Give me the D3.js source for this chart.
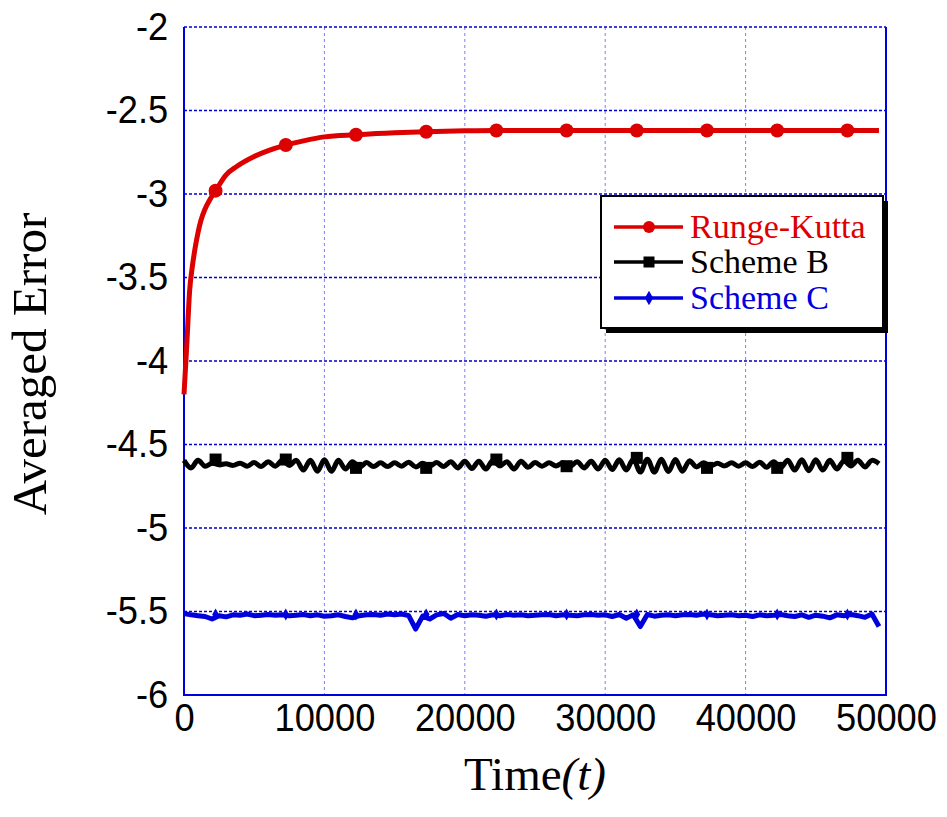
<!DOCTYPE html>
<html>
<head>
<meta charset="utf-8">
<script src="https://cdn.jsdelivr.net/npm/d3@7"></script>
<style>
  body { margin: 0; background: #fff; }
  svg { display: block; }
</style>
</head>
<body>
<svg id="chart" width="947" height="817"></svg>
<script>
// series data
var rkTime = [0, 100, 200, 400, 600, 800, 1000, 1200, 1500, 1800, 2250, 3000, 3750, 5000, 6000, 7250, 8500, 10000,
  12250, 15000, 17250, 20000, 22250, 27250, 32250, 37250, 42250, 47250, 49500];
var rkErr = [-4.20, -4.05, -3.90, -3.58, -3.43, -3.32, -3.23, -3.16, -3.09, -3.04, -2.98, -2.885, -2.835, -2.775, -2.74,
  -2.707, -2.682, -2.658, -2.645, -2.633, -2.627, -2.622, -2.62, -2.62, -2.62, -2.62, -2.62, -2.62, -2.62];
var rkMarkIdx = [10, 15, 18, 20, 22, 23, 24, 25, 26, 27];

var sampleTime = d3.range(0, 50000, 500);
var schemeB = [-4.595, -4.640, -4.595, -4.630, -4.612, -4.622, -4.615, -4.625, -4.612, -4.630,
  -4.608, -4.632, -4.603, -4.630, -4.595, -4.625, -4.595, -4.653, -4.595, -4.660,
  -4.592, -4.660, -4.595, -4.647, -4.603, -4.636, -4.608, -4.632, -4.610, -4.632,
  -4.610, -4.630, -4.606, -4.634, -4.613, -4.630, -4.608, -4.632, -4.603, -4.640,
  -4.600, -4.644, -4.600, -4.647, -4.595, -4.628, -4.603, -4.647, -4.600, -4.636,
  -4.608, -4.630, -4.610, -4.628, -4.610, -4.632, -4.603, -4.640, -4.600, -4.647,
  -4.595, -4.650, -4.592, -4.653, -4.588, -4.665, -4.588, -4.665, -4.588, -4.662,
  -4.590, -4.660, -4.598, -4.634, -4.610, -4.628, -4.613, -4.628, -4.610, -4.630,
  -4.610, -4.632, -4.606, -4.636, -4.603, -4.640, -4.595, -4.653, -4.592, -4.657,
  -4.592, -4.653, -4.595, -4.647, -4.598, -4.628, -4.595, -4.634, -4.595, -4.615];
var schemeC = [-5.512, -5.520, -5.525, -5.530, -5.545, -5.525, -5.532, -5.520, -5.522, -5.515,
  -5.525, -5.522, -5.518, -5.522, -5.520, -5.525, -5.522, -5.518, -5.525, -5.520,
  -5.528, -5.525, -5.520, -5.530, -5.538, -5.525, -5.520, -5.518, -5.522, -5.515,
  -5.520, -5.515, -5.525, -5.605, -5.528, -5.545, -5.520, -5.512, -5.540, -5.518,
  -5.525, -5.520, -5.522, -5.528, -5.520, -5.525, -5.518, -5.522, -5.520, -5.525,
  -5.522, -5.520, -5.518, -5.525, -5.520, -5.522, -5.525, -5.520, -5.518, -5.522,
  -5.520, -5.530, -5.518, -5.540, -5.520, -5.590, -5.518, -5.528, -5.522, -5.520,
  -5.525, -5.520, -5.518, -5.522, -5.515, -5.520, -5.525, -5.522, -5.520, -5.525,
  -5.522, -5.530, -5.520, -5.525, -5.522, -5.518, -5.525, -5.530, -5.520, -5.535,
  -5.522, -5.528, -5.538, -5.520, -5.525, -5.518, -5.525, -5.535, -5.515, -5.590];

var markTime = [2250, 7250, 12250, 17250, 22250, 27250, 32250, 37250, 42250, 47250];
var schemeBMarks = [-4.59, -4.59, -4.64, -4.64, -4.59, -4.63, -4.58, -4.64, -4.64, -4.58];
var schemeCMarks = [-5.518, -5.518, -5.518, -5.518, -5.518, -5.518, -5.518, -5.518, -5.518, -5.518];

var xTicks = [0, 10000, 20000, 30000, 40000, 50000];
var yTicks = [-2, -2.5, -3, -3.5, -4, -4.5, -5, -5.5, -6];
var legendNames = ['Runge-Kutta', 'Scheme B', 'Scheme C'];
var colors = ['#dd0000', '#000000', '#0000dd'];

var pLeft = 184, pRight = 886, pTop = 27, pBottom = 695;

var svg = d3.select('#chart');
var x = d3.scaleLinear().domain([0, 50000]).range([pLeft, pRight]);
var y = d3.scaleLinear().domain([-6, -2]).range([pBottom, pTop]);

// grid
var grid = svg.append('g').classed('grid', true);
grid.selectAll('line.v')
    .data(xTicks.slice(1, -1))
    .enter().append('line')
    .attr('x1', function (d) { return x(d); })
    .attr('x2', function (d) { return x(d); })
    .attr('y1', pTop).attr('y2', pBottom)
    .style('stroke', '#7f7fee')
    .style('stroke-width', 1)
    .style('stroke-dasharray', '3,3');
grid.selectAll('line.h')
    .data(yTicks.slice(0, -1))
    .enter().append('line')
    .attr('x1', pLeft).attr('x2', pRight)
    .attr('y1', function (d) { return y(d); })
    .attr('y2', function (d) { return y(d); })
    .style('stroke', '#0000cc')
    .style('stroke-width', 1.6)
    .style('stroke-dasharray', '3,2');

// frame
svg.append('path')
    .attr('d', 'M' + pLeft + ',' + pTop + 'V' + pBottom + 'H' + pRight + 'V' + pTop)
    .style('fill', 'none')
    .style('stroke', '#0000dd')
    .style('stroke-width', 2);

// axes
var yAxis = svg.append('g')
    .attr('transform', 'translate(' + pLeft + ',0)')
    .call(d3.axisLeft(y).tickValues(yTicks).tickSize(0).tickPadding(17)
        .tickFormat(function (d) { return String(d); }));
var xAxis = svg.append('g')
    .attr('transform', 'translate(0,' + pBottom + ')')
    .call(d3.axisBottom(x).tickValues(xTicks).tickSize(0).tickPadding(8)
        .tickFormat(function (d) { return String(d); }));
[yAxis, xAxis].forEach(function (ax) {
    ax.select('.domain').remove();
    ax.selectAll('text')
        .style('font-family', '"Liberation Sans", Arial, sans-serif')
        .style('font-size', '39px')
        .style('fill', '#000')
        .attr('transform', 'scale(0.93,1)');
});

// lines
var line = d3.line()
    .x(function (d) { return x(d[0]); })
    .y(function (d) { return y(d[1]); });

var plot = svg.append('g').classed('plot', true);

var rkData = rkTime.map(function (t, i) { return [t, rkErr[i]]; });
plot.append('path')
    .datum(rkData)
    .attr('d', line.curve(d3.curveMonotoneX))
    .style('fill', 'none')
    .style('stroke', colors[0])
    .style('stroke-width', 5);
plot.selectAll('circle.rk')
    .data(rkMarkIdx.map(function (i) { return rkData[i]; }))
    .enter().append('circle')
    .attr('cx', function (d) { return x(d[0]); })
    .attr('cy', function (d) { return y(d[1]); })
    .attr('r', 7)
    .style('fill', colors[0]);

plot.append('path')
    .datum(sampleTime.map(function (t, i) { return [t, schemeB[i]]; }))
    .attr('d', line.curve(d3.curveCatmullRom))
    .style('fill', 'none')
    .style('stroke', colors[1])
    .style('stroke-width', 5);
plot.selectAll('rect.b')
    .data(markTime.map(function (t, i) { return [t, schemeBMarks[i]]; }))
    .enter().append('rect')
    .attr('x', function (d) { return x(d[0]) - 6; })
    .attr('y', function (d) { return y(d[1]) - 6; })
    .attr('width', 12).attr('height', 12)
    .style('fill', colors[1]);

plot.append('path')
    .datum(sampleTime.map(function (t, i) { return [t, schemeC[i]]; }))
    .attr('d', line.curve(d3.curveLinear))
    .style('fill', 'none')
    .style('stroke', colors[2])
    .style('stroke-width', 5)
    .style('stroke-linejoin', 'round');
plot.selectAll('path.c')
    .data(markTime.map(function (t, i) { return [t, schemeCMarks[i]]; }))
    .enter().append('path')
    .attr('d', d3.symbol(d3.symbolDiamond, 40))
    .attr('transform', function (d) { return 'translate(' + x(d[0]) + ',' + y(d[1]) + ')'; })
    .style('fill', colors[2]);

// legend
var lg = svg.append('g').attr('transform', 'translate(601,196)');
lg.append('rect').attr('x', 5).attr('y', 5).attr('width', 282).attr('height', 132).style('fill', '#000');
lg.append('rect').attr('width', 282).attr('height', 132)
    .style('fill', '#fff').style('stroke', '#000').style('stroke-width', 2);
var rows = lg.selectAll('g.row')
    .data(legendNames)
    .enter().append('g')
    .attr('transform', function (d, i) { return 'translate(0,' + [31, 66, 102][i] + ')'; });
rows.append('line')
    .attr('x1', 13).attr('x2', 82)
    .style('stroke', function (d, i) { return colors[i]; })
    .style('stroke-width', 3.5);
rows.each(function (d, i) {
    var g = d3.select(this);
    if (i === 0) g.append('circle').attr('cx', 48).attr('r', 6).style('fill', colors[0]);
    else if (i === 1) g.append('rect').attr('x', 42.5).attr('y', -5.5).attr('width', 11).attr('height', 11).style('fill', colors[1]);
    else g.append('path').attr('d', d3.symbol(d3.symbolDiamond, 60)).attr('transform', 'translate(48,0)').style('fill', colors[2]);
});
rows.append('text')
    .attr('x', 89)
    .attr('dy', '0.33em')
    .text(function (d) { return d; })
    .style('font-family', '"Liberation Serif", "Times New Roman", serif')
    .style('font-size', '34px')
    .style('fill', function (d, i) { return colors[i]; });

// axis titles
svg.append('text')
    .attr('transform', 'translate(46,' + ((pTop + pBottom) / 2 + 3) + ') rotate(-90)')
    .attr('text-anchor', 'middle')
    .style('font-family', '"Liberation Serif", "Times New Roman", serif')
    .style('font-size', '49px')
    .text('Averaged Error');

var xt = svg.append('text')
    .attr('x', (pLeft + pRight) / 2)
    .attr('y', 790)
    .attr('text-anchor', 'middle')
    .style('font-family', '"Liberation Serif", "Times New Roman", serif')
    .style('font-size', '47px');
xt.append('tspan').text('Time');
xt.append('tspan').style('font-style', 'italic').text('(t)');
</script>
</body>
</html>
